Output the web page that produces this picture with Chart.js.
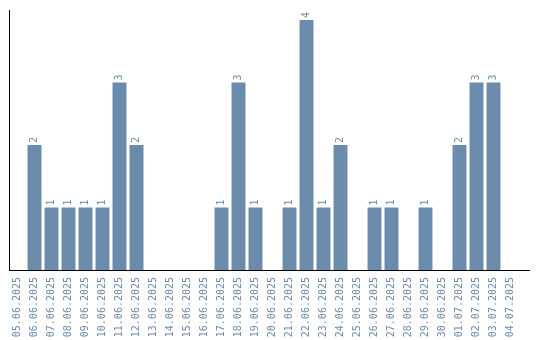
<!DOCTYPE html>
<html>
<head>
<meta charset="utf-8">
<script src="https://cdn.jsdelivr.net/npm/chart.js@4"></script>
<style>
  html, body { margin: 0; padding: 0; background: #fff; }
  #wrap { width: 540px; height: 340px; }
</style>
</head>
<body>
<div id="wrap"><canvas id="chart"></canvas></div>
<script>
// dates along the x axis
const days = [
  '05.06.2025', '06.06.2025', '07.06.2025', '08.06.2025', '09.06.2025',
  '10.06.2025', '11.06.2025', '12.06.2025', '13.06.2025', '14.06.2025',
  '15.06.2025', '16.06.2025', '17.06.2025', '18.06.2025', '19.06.2025',
  '20.06.2025', '21.06.2025', '22.06.2025', '23.06.2025', '24.06.2025',
  '25.06.2025', '26.06.2025', '27.06.2025', '28.06.2025', '29.06.2025',
  '30.06.2025', '01.07.2025', '02.07.2025', '03.07.2025', '04.07.2025'
];
// count per day
const counts = [0, 2, 1, 1, 1, 1, 3, 2, 0, 0, 0, 0, 1, 3, 1, 0, 1, 4, 1, 2, 0, 1, 1, 0, 1, 0, 2, 3, 3, 0];

const barColor = '#6a8bab';
const textColor = '#6a8bab';
const fontFamily = '"DejaVu Sans Mono", monospace';

// small vertical numbers above the bars
const valueLabels = {
  id: 'valueLabels',
  afterDatasetsDraw(chart) {
    const ctx = chart.ctx;
    const meta = chart.getDatasetMeta(0);
    ctx.save();
    ctx.fillStyle = textColor;
    ctx.font = '10px ' + fontFamily;
    ctx.textAlign = 'left';
    ctx.textBaseline = 'middle';
    meta.data.forEach((bar, i) => {
      if (!counts[i]) return;
      ctx.save();
      ctx.translate(bar.x, bar.y - 2);
      ctx.rotate(-Math.PI / 2);
      ctx.fillText(String(counts[i]), 0, 0);
      ctx.restore();
    });
    ctx.restore();
  }
};

// the bottom axis line runs a bit past the last day
const axisTail = {
  id: 'axisTail',
  afterDraw(chart) {
    const ctx = chart.ctx;
    const area = chart.chartArea;
    ctx.save();
    ctx.strokeStyle = '#000';
    ctx.lineWidth = 1;
    ctx.beginPath();
    ctx.moveTo(area.right, Math.round(area.bottom) + 0.5);
    ctx.lineTo(chart.width - 10, Math.round(area.bottom) + 0.5);
    ctx.stroke();
    ctx.restore();
  }
};

new Chart(document.getElementById('chart'), {
  type: 'bar',
  data: {
    labels: days,
    datasets: [{
      data: counts,
      backgroundColor: barColor,
      categoryPercentage: 1,
      barPercentage: 0.82
    }]
  },
  options: {
    responsive: true,
    maintainAspectRatio: false,
    animation: false,
    layout: { padding: { left: 9, top: 10, right: 21, bottom: 0 } },
    plugins: { legend: { display: false }, tooltip: { enabled: false } },
    scales: {
      x: {
        grid: { display: false, drawTicks: false },
        border: { display: true, color: '#000', width: 1 },
        ticks: {
          color: textColor,
          font: { family: fontFamily, size: 10 },
          minRotation: 90,
          maxRotation: 90,
          autoSkip: false,
          padding: 7
        },
        afterFit(scale) { scale.height = 70; }
      },
      y: {
        min: 0,
        max: 4.16,
        grid: { display: false, drawTicks: false },
        border: { display: true, color: '#000', width: 1 },
        ticks: { display: false },
        afterFit(scale) { scale.width = 0; }
      }
    }
  },
  plugins: [valueLabels, axisTail]
});
</script>
</body>
</html>
